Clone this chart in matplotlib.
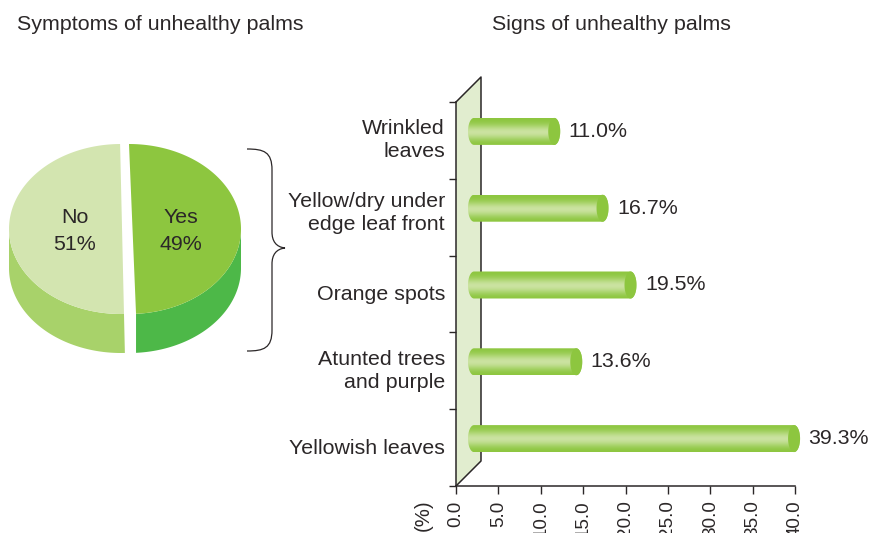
import numpy as np
import matplotlib
matplotlib.use('Agg')
import matplotlib.pyplot as plt
from matplotlib.path import Path
from matplotlib.patches import PathPatch, Polygon

# Data
pie_labels = ['No', 'Yes']
pie_values = [51, 49]
categories = ['Wrinkled\nleaves', 'Yellow/dry under\nedge leaf front', 'Orange spots',
              'Atunted trees\nand purple', 'Yellowish leaves']
values = [11.0, 16.7, 19.5, 13.6, 39.3]
# the drawn bars do not all agree with their labels (Orange spots is longer)
bar_lengths = [11.0, 16.7, 20.0, 13.6, 39.3]
x_ticks = [0, 5, 10, 15, 20, 25, 30, 35, 40]

dark = '#2b2728'
W, H = 869, 533
plt.rcParams['font.family'] = ['Liberation Sans', 'DejaVu Sans']
plt.rcParams['font.size'] = 15.4

fig = plt.figure(figsize=(W / 100, H / 100), dpi=100)
fig.patch.set_facecolor('white')

# overlay in pixel coords for the pie, the brace and the titles
bg = fig.add_axes([0, 0, 1, 1])
bg.set_xlim(0, W)
bg.set_ylim(H, 0)
bg.axis('off')

bg.text(17, 24, 'Symptoms of unhealthy palms', color=dark, va='center', ha='left')
bg.text(492, 24, 'Signs of unhealthy palms', color=dark, va='center', ha='left')

# 3D pie, top ellipse plus a side wall
rx, ry, depth = 112, 85, 39
cy = 229
share = pie_values[1] / sum(pie_values) * 360
split = 90 - share  # the Yes slice runs clockwise from 12 o'clock


def arc(cx, a0, a1, dy=0):
    t = np.radians(np.linspace(a0, a1, 200))
    return np.column_stack([cx + rx * np.cos(t), cy - ry * np.sin(t) + dy])


def draw_slice(cx, a0, a1, top_col, side_col, s0, s1):
    rim = arc(cx, s0, s1)
    side = np.vstack([rim, arc(cx, s1, s0, depth)])
    bg.add_patch(Polygon(side, closed=True, fc=side_col, ec='none'))
    # cut straight from 12 o'clock to the split point, no kink at the centre
    bg.add_patch(Polygon(arc(cx, a0, a1), closed=True, fc=top_col, ec='none'))


draw_slice(121, 90, 360 + split, '#d3e5b0', '#a8d26a', 180, 360 + split)
# white gap trims the No slice back from the Yes slice
bg.add_patch(Polygon([(120, 140), (135, 140), (135, 358), (125, 358)], closed=True, fc='white', ec='none'))
draw_slice(129, split, 90, '#8dc63f', '#4db848', split, 0)
bg.text(75, 231, f'{pie_labels[0]}\n{pie_values[0]}%', color=dark, ha='center', va='center',
        linespacing=1.5)
bg.text(181, 231, f'{pie_labels[1]}\n{pie_values[1]}%', color=dark, ha='center', va='center',
        linespacing=1.5)

# brace between the pie and the bars
brace = Path([(247, 149), (264, 149), (272, 152), (272, 170),
              (272, 232), (272, 241), (276, 247), (285, 248),
              (276, 249), (272, 255), (272, 264),
              (272, 330), (272, 348), (264, 351), (247, 351)],
             [Path.MOVETO, Path.CURVE4, Path.CURVE4, Path.CURVE4,
              Path.LINETO, Path.CURVE4, Path.CURVE4, Path.CURVE4,
              Path.CURVE4, Path.CURVE4, Path.CURVE4,
              Path.LINETO, Path.CURVE4, Path.CURVE4, Path.CURVE4])
bg.add_patch(PathPatch(brace, fc='none', ec=dark, lw=0.9))

# Bar chart
ax = fig.add_axes([456 / W, 1 - 486 / H, (795 - 456) / W, (486 - 102) / H])
ax.patch.set_alpha(0)
ax.set_xlim(0, 40)
ax.set_ylim(5, 0)
px_x = 40 / (795 - 456)
px_y = 5 / (486 - 102)

# back wall
dx, dy = 25 * px_x, 25 * px_y
ax.add_patch(Polygon([(0, 0), (dx, -dy), (dx, 5 - dy), (0, 5)], closed=True,
                     fc='#e1edcf', ec='none', clip_on=False, zorder=1))
ax.plot([0, dx, dx, 0], [0, -dy, 5 - dy, 5], color=dark, lw=1.1, clip_on=False, zorder=2)

# shading across a cylinder
grad = np.array([[141, 198, 63], [152, 204, 82], [185, 219, 130], [208, 229, 170],
                 [195, 223, 148], [162, 209, 98], [141, 198, 63]]) / 255
grad = grad[:, None, :]
bar_h = 27 * px_y
cap_w = 6 * px_x
for i, (v, length) in enumerate(zip(values, bar_lengths)):
    yc = i + 0.5 - 9 * px_y
    x0 = 12 * px_x + cap_w
    x1 = length + 5 * px_x
    t = np.radians(np.linspace(90, 270, 40))
    left = np.column_stack([x0 + cap_w * np.cos(t), yc - bar_h / 2 * np.sin(t)])
    t2 = np.radians(np.linspace(270, 450, 40))
    right = np.column_stack([x1 + cap_w * np.cos(t2), yc - bar_h / 2 * np.sin(t2)])
    outline = np.vstack([left, right, left[:1]])
    im = ax.imshow(grad, extent=(x0 - cap_w, x1 + cap_w, yc + bar_h / 2, yc - bar_h / 2),
                   aspect='auto', interpolation='bicubic', zorder=3)
    im.set_clip_box(fig.bbox)
    im.set_clip_path(Path(outline), ax.transData)
    t3 = np.radians(np.linspace(0, 360, 80))
    ax.add_patch(Polygon(np.column_stack([x1 + cap_w * np.cos(t3), yc - bar_h / 2 * np.sin(t3)]),
                         closed=True, fc='#8dc63f', ec='none', clip_on=False, zorder=4))
    ax.text(x1 + cap_w + 8.5 * px_x, yc, f'{v:.1f}%', color=dark, va='center', ha='left',
            clip_on=False, zorder=5)

ax.set_xlim(0, 40)
ax.set_ylim(5, 0)

for s in ['top', 'right']:
    ax.spines[s].set_visible(False)
for s in ['left', 'bottom']:
    ax.spines[s].set_color(dark)
    ax.spines[s].set_linewidth(1.1)

ax.set_yticks(np.arange(6))
ax.set_yticklabels([])
# labels sit a little above the slot centres, the two line ones most of all
label_nudge = np.array([-4, -8, -1, -4, -1]) * px_y
ax.set_yticks(np.arange(5) + 0.5 + label_nudge, categories, minor=True)
ax.tick_params(axis='y', which='major', length=5, width=1.0, color=dark)
ax.tick_params(axis='y', which='minor', length=0, pad=8, labelcolor=dark)
ax.set_xticks(x_ticks)
ax.set_xticklabels([f'{t:.1f}' for t in x_ticks], rotation=90, va='top', ha='center')
ax.tick_params(axis='x', length=5.8, width=1.0, color=dark, pad=4.5, labelcolor=dark, labelsize=13.6)
for lab in ax.get_yticklabels(minor=True):
    lab.set_linespacing(1.25)
    lab.set_multialignment('right')

bg.text(423, 499, '(%)', rotation=90, color=dark, ha='center', va='top', fontsize=14.6)

fig.savefig('out.png', dpi=100)
